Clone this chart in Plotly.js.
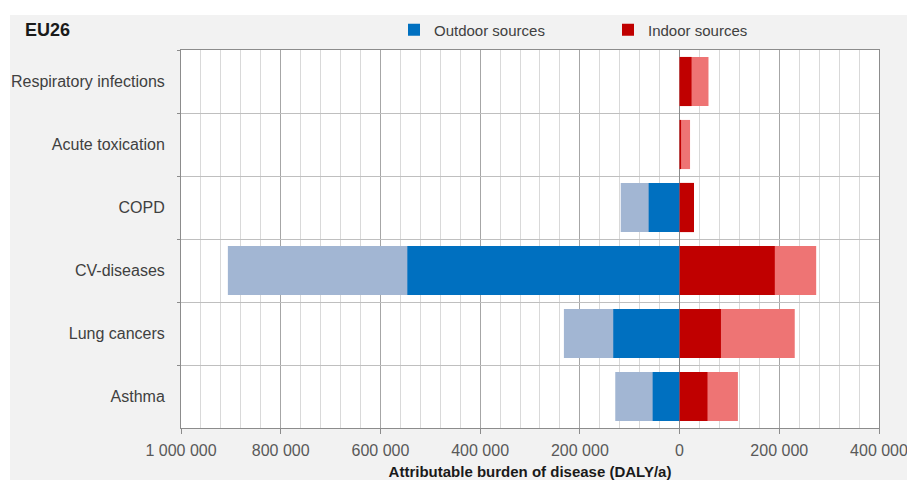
<!DOCTYPE html>
<html>
<head>
<meta charset="utf-8">
<script src="https://cdn.plot.ly/plotly-3.0.1.min.js"></script>
<style>html,body{margin:0;padding:0;background:#fff;}#chart{width:907px;height:480px;}</style>
</head>
<body>
<div id="chart"></div>
<script>
// Categories (top to bottom)
const categories = ["Respiratory infections", "Acute toxication", "COPD", "CV-diseases", "Lung cancers", "Asthma"];
// Attributable burden of disease (DALY/a)
const outdoorLow  = [0, 0, 62000, 546000, 133000, 54000];     // dark blue
const outdoorHigh = [0, 0, 118000, 906000, 232000, 129000];   // light blue
const indoorLow   = [24000, 3000, 29000, 191000, 83000, 56000];  // dark red
const indoorHigh  = [58000, 21000, 29000, 274000, 231000, 117000]; // light red
// X tick values and labels
const xTickVals = [-1000000, -800000, -600000, -400000, -200000, 0, 200000, 400000];
const xTickText = ["1 000 000", "800 000", "600 000", "400 000", "200 000", "0", "200 000", "400 000"];

const neg = a => a.map(v => -v);
const W = 0.78;

const traces = [
  {type: "bar", orientation: "h", y: categories, x: neg(outdoorHigh), width: W,
   marker: {color: "#a2b6d3"}, showlegend: false, hoverinfo: "x+y"},
  {type: "bar", orientation: "h", y: categories, x: indoorHigh, width: W,
   marker: {color: "#ee7474"}, showlegend: false, hoverinfo: "x+y"},
  {type: "bar", orientation: "h", y: categories, x: neg(outdoorLow), width: W,
   name: "Outdoor sources", marker: {color: "#0070c0"}},
  {type: "bar", orientation: "h", y: categories, x: indoorLow, width: W,
   name: "Indoor sources", marker: {color: "#c00000"}}
];

const layout = {
  width: 907, height: 480,
  margin: {l: 181, r: 28, t: 50, b: 52, pad: 0},
  paper_bgcolor: "#f2f2f2",
  plot_bgcolor: "#ffffff",
  barmode: "overlay",
  font: {family: "Liberation Sans, Arial, sans-serif", size: 16, color: "#404040"},
  title: {text: "<b>EU26</b>", x: 25/907, xanchor: "left", xref: "container",
          y: 1 - 30/480, yanchor: "middle", yref: "container",
          font: {size: 18, color: "#1a1a1a", family: "Liberation Sans, Arial, sans-serif"}},
  showlegend: true,
  legend: {orientation: "h", x: (394 - 181)/698, xanchor: "left", y: (428 - 30)/378, yanchor: "middle",
           bgcolor: "rgba(0,0,0,0)", entrywidth: 169, traceorder: "normal",
           font: {size: 15, color: "#404040"}},
  xaxis: {
    range: [-1000000, 400000],
    tickmode: "array", tickvals: xTickVals, ticktext: xTickText,
    ticklabeloverflow: "allow",
    showgrid: true, gridcolor: "#a6a6a6", gridwidth: 1,
    minor: {tickmode: "linear", tick0: 0, dtick: 40000, showgrid: true, gridcolor: "#d9d9d9", gridwidth: 1},
    zeroline: true, zerolinecolor: "#8c8c8c", zerolinewidth: 1,
    showline: true, linecolor: "#8c8c8c", linewidth: 1, mirror: true,
    ticks: "outside", ticklen: 5, tickcolor: "#8c8c8c",
    ticklabelstandoff: 3,
    tickfont: {size: 16, color: "#595959"},
    title: {text: "<b>Attributable burden of disease (DALY/a)</b>", standoff: 15,
            font: {size: 15, color: "#1a1a1a"}},
    fixedrange: true
  },
  yaxis: {
    type: "category", categoryorder: "array", categoryarray: categories,
    autorange: "reversed",
    tickson: "boundaries", showgrid: true, gridcolor: "#bfbfbf", gridwidth: 1,
    showline: true, linecolor: "#8c8c8c", linewidth: 1, mirror: true,
    ticks: "outside", ticklen: 3, tickcolor: "#8c8c8c",
    ticklabelstandoff: 12,
    tickfont: {size: 16, color: "#404040"},
    fixedrange: true
  },
  shapes: [
    {type: "rect", xref: "paper", yref: "paper", x0: -0.3, x1: (10 - 181)/698, y0: -0.2, y1: 1.2,
     fillcolor: "#ffffff", line: {width: 0}, layer: "above"},
    {type: "rect", xref: "paper", yref: "paper", x0: -0.3, x1: 1.1, y0: (428 - 15)/378, y1: 1.2,
     fillcolor: "#ffffff", line: {width: 0}, layer: "above"}
  ]
};

Plotly.newPlot("chart", traces, layout, {displayModeBar: false, staticPlot: true});
</script>
</body>
</html>
